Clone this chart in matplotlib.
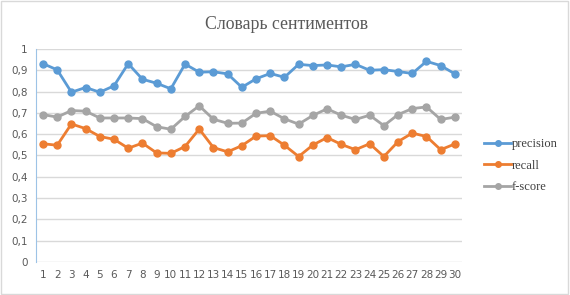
import numpy as np
import matplotlib.pyplot as plt
from matplotlib.patches import Rectangle

# data
runs = list(range(1, 31))
precision = [0.931, 0.902, 0.797, 0.819, 0.797, 0.827, 0.931, 0.858, 0.839, 0.813,
             0.929, 0.891, 0.893, 0.883, 0.820, 0.860, 0.885, 0.867, 0.928, 0.922,
             0.925, 0.916, 0.928, 0.900, 0.903, 0.894, 0.885, 0.942, 0.922, 0.883]
recall = [0.555, 0.548, 0.648, 0.626, 0.589, 0.576, 0.534, 0.558, 0.512, 0.510,
          0.542, 0.624, 0.537, 0.517, 0.546, 0.591, 0.593, 0.548, 0.495, 0.549,
          0.584, 0.552, 0.527, 0.555, 0.495, 0.565, 0.605, 0.589, 0.527, 0.554]
fscore = [0.692, 0.680, 0.711, 0.708, 0.676, 0.676, 0.676, 0.673, 0.635, 0.623,
          0.683, 0.733, 0.670, 0.651, 0.652, 0.698, 0.708, 0.672, 0.647, 0.688,
          0.719, 0.689, 0.669, 0.689, 0.640, 0.692, 0.720, 0.728, 0.669, 0.680]
yticks = np.arange(0, 1.01, 0.1)

fig = plt.figure(figsize=(5.7, 2.95), dpi=100)
ax = fig.add_axes([0.063, 0.112, 0.7475, 0.722])

ax.plot(runs, precision, '-o', color='#5B9BD5', lw=2, ms=5, label='precision')
ax.plot(runs, recall, '-o', color='#ED7D31', lw=2, ms=5, label='recall')
ax.plot(runs, fscore, '-o', color='#A5A5A5', lw=2, ms=5, label='f-score')

ax.set_xlim(0.5, 30.5)
ax.set_ylim(0, 1)
ax.set_xticks(runs)
ax.set_xticklabels([str(r) for r in runs])
ax.set_yticks(yticks)
ax.set_yticklabels([('%.1f' % v).replace('.', ',') if v > 0 and v < 1 else '%d' % round(v) for v in yticks])
ax.tick_params(length=0, labelsize=7.5, colors='#595959', pad=6)
ax.grid(axis='y', color='#D9D9D9', lw=1)
ax.set_axisbelow(True)
for s in ['top', 'right', 'bottom']:
    ax.spines[s].set_visible(False)
ax.spines['left'].set_color('#9DC3E6')

fig.suptitle('Словарь сентиментов', x=0.502, y=0.945, fontsize=12.8,
             family='Liberation Serif', color='#595959')

ax.legend(loc='center left', bbox_to_anchor=(1.025, 0.452), frameon=False,
          prop={'family': 'Liberation Serif', 'size': 9}, handlelength=2.2,
          labelspacing=0.78, handletextpad=0.05, markerscale=0.8,
          labelcolor='#404040')

fig.patches.append(Rectangle((0.002, 0.003), 0.995, 0.992, transform=fig.transFigure,
                             fill=False, edgecolor='#D9D9D9', lw=1))

plt.savefig('out.png', dpi=100)
